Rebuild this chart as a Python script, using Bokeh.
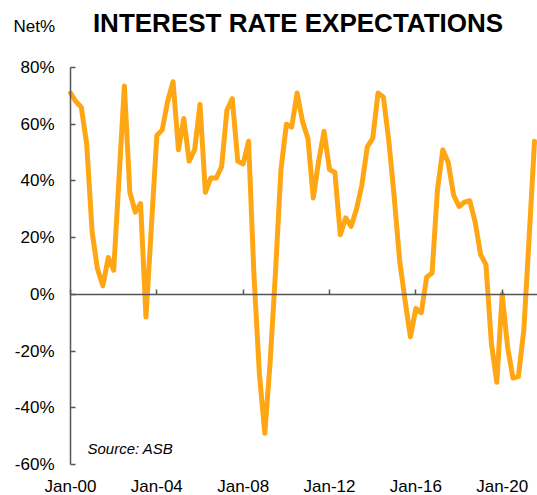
import pandas as pd
from datetime import datetime, timedelta
from bokeh.plotting import figure
from bokeh.models import (Range1d, FixedTicker, PrintfTickFormatter, DatetimeAxis,
                          LinearAxis, Label, ColumnDataSource)
from bokeh.embed import file_html
from bokeh.resources import INLINE

# Net % expecting higher interest rates, quarterly from Jan-00
values = [71, 68, 66, 53, 22, 9, 3, 13, 8.5, 41,
          73.5, 36, 29, 32, -8, 24, 56, 58, 68, 75,
          51, 62, 47, 51, 67, 36, 41, 41, 45, 65,
          69, 47, 46, 54, 7, -28, -49, -24, 8, 44,
          60, 59, 71, 61, 55, 34, 47, 57.5, 44, 43,
          21, 27, 24, 30, 38.5, 52, 55, 71, 69.5, 54,
          34, 12, -2, -15, -5, -6.5, 6, 7.5, 37, 51,
          46.5, 35, 31, 32.5, 33, 25.5, 14, 10.5, -17, -31,
          0, -18.5, -29.5, -29, -12.5, 20, 54]
dates = pd.date_range("2000-01-01", periods=len(values), freq="QS")

x_tick_years = [2000, 2004, 2008, 2012, 2016, 2020]
x_tick_labels = ["Jan-00", "Jan-04", "Jan-08", "Jan-12", "Jan-16", "Jan-20"]
y_ticks = [-60, -40, -20, 0, 20, 40, 60, 80]
y_min, y_max = -60, 80

title_text = "INTEREST RATE EXPECTATIONS"
unit_text = "Net%"
source_text = "Source: ASB"

FONT = "Liberation Sans"
ORANGE = "#FFA615"
AXIS = "#555555"

W, H = 537, 495
# layout: axis origin at pixel (70, 464), 80% at y=67, Jan-20 at x=501.7
px_per_day = (501.7 - 70) / 7305.0
px_per_pct = (464 - 67) / float(y_max - y_min)
x0 = datetime(2000, 1, 1)
x_start = x0 - timedelta(days=70 / px_per_day)
x_end = x0 + timedelta(days=(W - 70) / px_per_day)
y_bottom = y_min - (H - 464) / px_per_pct
y_top = y_max + 67 / px_per_pct

src = ColumnDataSource(dict(date=dates, value=values))

p = figure(width=W, height=H, output_backend="svg", toolbar_location=None,
           x_axis_type="datetime", x_axis_location=None, y_axis_location=None,
           x_range=Range1d(x_start, x_end), y_range=Range1d(y_bottom, y_top),
           min_border=0)
p.outline_line_color = None
p.grid.grid_line_color = None
p.background_fill_color = "white"

p.line("date", "value", source=src, line_color=ORANGE, line_width=5,
       line_join="round", line_cap="round")

to_ms = lambda d: (d - datetime(1970, 1, 1)).total_seconds() * 1000
tick_ms = [to_ms(datetime(y, 1, 1)) for y in x_tick_years]
x0_ms = to_ms(x0)
x_end_ms = to_ms(x_end)

# bottom axis: labels only, placed at the -60% level
xa = DatetimeAxis(fixed_location=y_min)
xa.ticker = FixedTicker(ticks=tick_ms)
xa.major_label_overrides = {t: lab for t, lab in zip(tick_ms, x_tick_labels)}
xa.axis_line_color = None
xa.major_tick_line_color = None
xa.minor_tick_line_color = None
xa.major_tick_in = 0
xa.major_tick_out = 0
xa.major_label_text_font = FONT
xa.major_label_text_font_size = "17px"
xa.major_label_text_color = "black"
xa.major_label_standoff = 12
p.add_layout(xa, "below")

# zero line with upward ticks
za = DatetimeAxis(fixed_location=0, bounds=(x0_ms, x_end_ms))
za.ticker = FixedTicker(ticks=tick_ms)
za.major_label_text_color = None
za.axis_line_color = AXIS
za.axis_line_width = 1.5
za.major_tick_line_color = AXIS
za.major_tick_line_width = 1.5
za.major_tick_out = 5
za.major_tick_in = 0
za.minor_tick_line_color = None
p.add_layout(za, "above")

ya = LinearAxis(fixed_location=x0_ms, bounds=(y_min, y_max))
ya.ticker = FixedTicker(ticks=y_ticks)
ya.formatter = PrintfTickFormatter(format="%d%%")
ya.axis_line_color = AXIS
ya.axis_line_width = 1.5
ya.major_tick_line_color = AXIS
ya.major_tick_line_width = 1.5
ya.major_tick_in = 5
ya.major_tick_out = 0
ya.minor_tick_line_color = None
ya.major_label_text_font = FONT
ya.major_label_text_font_size = "17px"
ya.major_label_text_color = "black"
ya.major_label_standoff = 16
p.add_layout(ya, "left")

p.add_layout(Label(x=297.5, y=H - 22, x_units="screen", y_units="screen", text=title_text,
                   text_font=FONT, text_font_size="26px", text_font_style="bold",
                   text_align="center", text_baseline="alphabetic", text_color="black"))
p.add_layout(Label(x=13, y=H - 25.5, x_units="screen", y_units="screen", text=unit_text,
                   text_font=FONT, text_font_size="17px",
                   text_align="left", text_baseline="alphabetic", text_color="black"))
p.add_layout(Label(x=87, y=H - 448, x_units="screen", y_units="screen", text=source_text,
                   text_font=FONT, text_font_size="15px", text_font_style="italic",
                   text_align="left", text_baseline="alphabetic", text_color="black"))

open("out.html", "w").write(file_html(p, INLINE))
